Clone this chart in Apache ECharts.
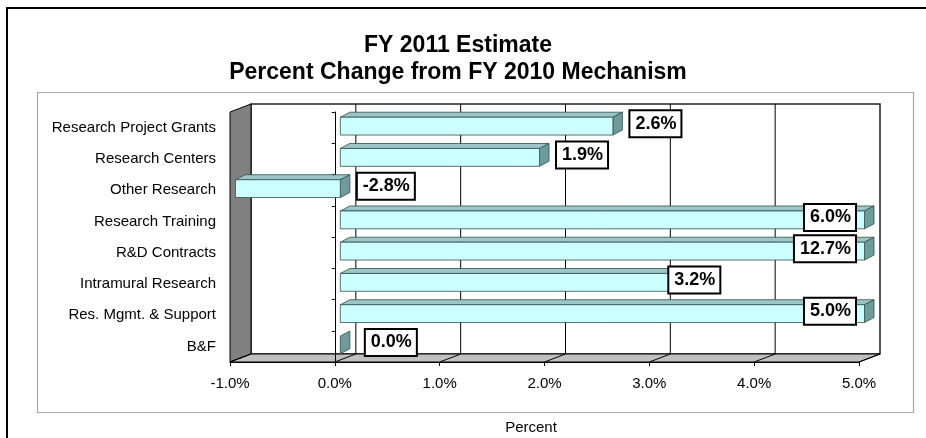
<!DOCTYPE html>
<html><head><meta charset="utf-8">
<script src="https://cdn.jsdelivr.net/npm/echarts@6/dist/echarts.min.js"></script>
<style>html,body{margin:0;padding:0;background:#fff}#c{width:926px;height:438px}</style>
</head><body><div id="c"></div>
<script>
// ---- data ----
const categories = ['Research Project Grants', 'Research Centers', 'Other Research', 'Research Training',
  'R&D Contracts', 'Intramural Research', 'Res. Mgmt. & Support', 'B&F'];
const percentChange = [2.6, 1.9, -2.8, 6.0, 12.7, 3.2, 5.0, 0.0];
const valueTicks = [-1, 0, 1, 2, 3, 4, 5];
const axisMin = -1, axisMax = 5;

// ---- styling ----
const FONT = '"Liberation Sans", Arial, sans-serif';
const DEPTH = [21, -8];        // floor / wall depth offset
const BAR_FRONT = [5.5, -1.5]; // bar front-face offset
const BAR_BACK = [15, -6.5];   // bar back-face offset
const BAR_H = 0.57;            // bar height as fraction of band
const labelNudge = { 'Intramural Research': -24, 'B&F': 8 };

const chart = echarts.init(document.getElementById('c'), null, { renderer: 'canvas' });

function renderWalls(params, api) {
  const cs = params.coordSys;
  const x0 = api.coord([axisMin, 0])[0], x1 = api.coord([axisMax, 0])[0];
  const y0 = cs.y, y1 = cs.y + cs.height;
  const dx = DEPTH[0], dy = DEPTH[1];
  return { type: 'group', children: [
    { type: 'rect', shape: { x: x0 + dx, y: y0 + dy, width: x1 - x0, height: y1 - y0 },
      style: { fill: '#fff', stroke: '#222', lineWidth: 1.5 } },
    { type: 'polygon', shape: { points: [[x0, y0], [x0 + dx, y0 + dy], [x0 + dx, y1 + dy], [x0, y1]] },
      style: { fill: '#808080', stroke: '#000', lineWidth: 1 } },
    { type: 'polygon', shape: { points: [[x0, y1], [x0 + dx, y1 + dy], [x1 + dx, y1 + dy], [x1, y1]] },
      style: { fill: '#C0C0C0', stroke: '#000', lineWidth: 1 } }
  ]};
}

function renderGridLines(params, api) {
  const cs = params.coordSys;
  const v = api.value(0);
  const x = api.coord([v, 0])[0];
  const y0 = cs.y, y1 = cs.y + cs.height;
  const children = [
    { type: 'line', shape: { x1: x, y1: y1, x2: x + DEPTH[0], y2: y1 + DEPTH[1] },
      style: { stroke: '#000', lineWidth: 1 } }
  ];
  if (v > axisMin && v < axisMax) {
    children.push({ type: 'line', shape: { x1: x + DEPTH[0], y1: y0 + DEPTH[1], x2: x + DEPTH[0], y2: y1 + DEPTH[1] },
      style: { stroke: '#000', lineWidth: 1 } });
  }
  return { type: 'group', children };
}

function barGeom(api) {
  const ci = api.value(0), v = api.value(1);
  const vc = Math.max(axisMin, Math.min(axisMax, v));
  const lo = Math.min(0, vc), hi = Math.max(0, vc);
  const band = api.size([0, 1])[1];
  const cy = api.coord([0, ci])[1];
  const xl = api.coord([lo, ci])[0], xh = api.coord([hi, ci])[0];
  const h = band * BAR_H;
  return { ci, v, vc, cy, xl, xh, h };
}

function renderBar(params, api) {
  const g = barGeom(api);
  const fT = g.cy + BAR_FRONT[1] - g.h / 2, fB = fT + g.h;
  const bT = g.cy + BAR_BACK[1] - g.h / 2, bB = bT + g.h;
  const fxl = g.xl + BAR_FRONT[0], fxh = g.xh + BAR_FRONT[0];
  const bxl = g.xl + BAR_BACK[0], bxh = g.xh + BAR_BACK[0];
  const edge = { stroke: '#2f4f4f', lineWidth: 0.8 };
  const children = [];
  if (fxh - fxl > 0.5) {
    children.push({ type: 'polygon', shape: { points: [[fxl, fT], [bxl, bT], [bxh, bT], [fxh, fT]] },
      style: Object.assign({ fill: '#9CC6C6' }, edge) });
  }
  children.push({ type: 'polygon', shape: { points: [[fxh, fT], [bxh, bT], [bxh, bB], [fxh, fB]] },
    style: Object.assign({ fill: '#6F9B9B' }, edge) });
  if (fxh - fxl > 0.5) {
    children.push({ type: 'rect', shape: { x: fxl, y: fT, width: fxh - fxl, height: fB - fT },
      style: Object.assign({ fill: '#CCFFFF' }, edge) });
  }
  return { type: 'group', children };
}

function renderLabel(params, api) {
  const g = barGeom(api);
  const name = categories[g.ci];
  const text = g.v.toFixed(1) + '%';
  let x, align;
  if (g.v >= axisMax) {
    x = api.coord([axisMax, g.ci])[0] - 4; align = 'right';
  } else {
    x = g.xh + BAR_BACK[0] + 8 + (labelNudge[name] || 0); align = 'left';
  }
  return { type: 'text', style: {
    text, x, y: g.cy - 4, align, verticalAlign: 'middle',
    font: 'bold 18px ' + FONT, fill: '#000',
    backgroundColor: '#fff', borderColor: '#000', borderWidth: 2, padding: [4, 4, 3, 5]
  }};
}

const barData = percentChange.map((v, i) => [i, v]);

chart.setOption({
  animation: false,
  backgroundColor: '#fff',
  title: {
    text: 'FY 2011 Estimate\nPercent Change from FY 2010 Mechanism',
    left: 453, top: 27, textAlign: 'center',
    textStyle: { fontFamily: FONT, fontWeight: 'bold', fontSize: 23, lineHeight: 27, color: '#000' }
  },
  graphic: [
    { type: 'rect', z: -100, silent: true, shape: { x: 7, y: 8, width: 1000, height: 1000 },
      style: { fill: '#fff', stroke: '#000', lineWidth: 2 } },
    { type: 'rect', z: -99, silent: true, shape: { x: 37.5, y: 92.5, width: 876, height: 320 },
      style: { fill: '#fff', stroke: '#a6a6a6', lineWidth: 1.2 } },
    { type: 'text', z: 10, silent: true, style: { text: 'Percent', x: 531, y: 428, align: 'center', verticalAlign: 'middle',
      font: '15px ' + FONT, fill: '#000' } }
  ],
  grid: { left: 230, right: 67, top: 112, bottom: 76, containLabel: false },
  xAxis: {
    type: 'value', min: axisMin, max: axisMax, interval: 1,
    axisLine: { show: true, onZero: false, lineStyle: { color: '#000', width: 1 } },
    axisTick: { show: true, length: 4, lineStyle: { color: '#000' }, customValues: valueTicks },
    splitLine: { show: false },
    axisLabel: { customValues: valueTicks, formatter: v => v.toFixed(1) + '%', fontSize: 15, color: '#000', fontFamily: FONT, margin: 14 }
  },
  yAxis: [
    { type: 'category', data: categories, inverse: true,
      axisLine: { show: false, onZero: false }, axisTick: { show: false }, splitLine: { show: false },
      axisLabel: { fontSize: 15, color: '#000', fontFamily: FONT, margin: 14 } },
    { type: 'category', data: categories, inverse: true, position: 'left',
      axisLine: { show: true, onZero: true, lineStyle: { color: '#000', width: 1 } },
      axisTick: { show: true, length: 3, lineStyle: { color: '#000' } },
      splitLine: { show: false }, axisLabel: { show: false } }
  ],
  series: [
    { type: 'custom', name: 'walls', z: -3, silent: true, renderItem: renderWalls,
      data: [[0, 0]], encode: { x: 0, y: 1 } },
    { type: 'custom', name: 'gridlines', z: -2, silent: true, renderItem: renderGridLines,
      data: valueTicks.map(v => [v, 0]), encode: { x: 0, y: 1 } },
    { type: 'custom', name: 'bars', z: 3, silent: true, renderItem: renderBar,
      data: barData, encode: { x: 1, y: 0 } },
    { type: 'custom', name: 'labels', z: 5, silent: true, renderItem: renderLabel,
      data: barData, encode: { x: 1, y: 0 } }
  ]
});
</script>
</body></html>
